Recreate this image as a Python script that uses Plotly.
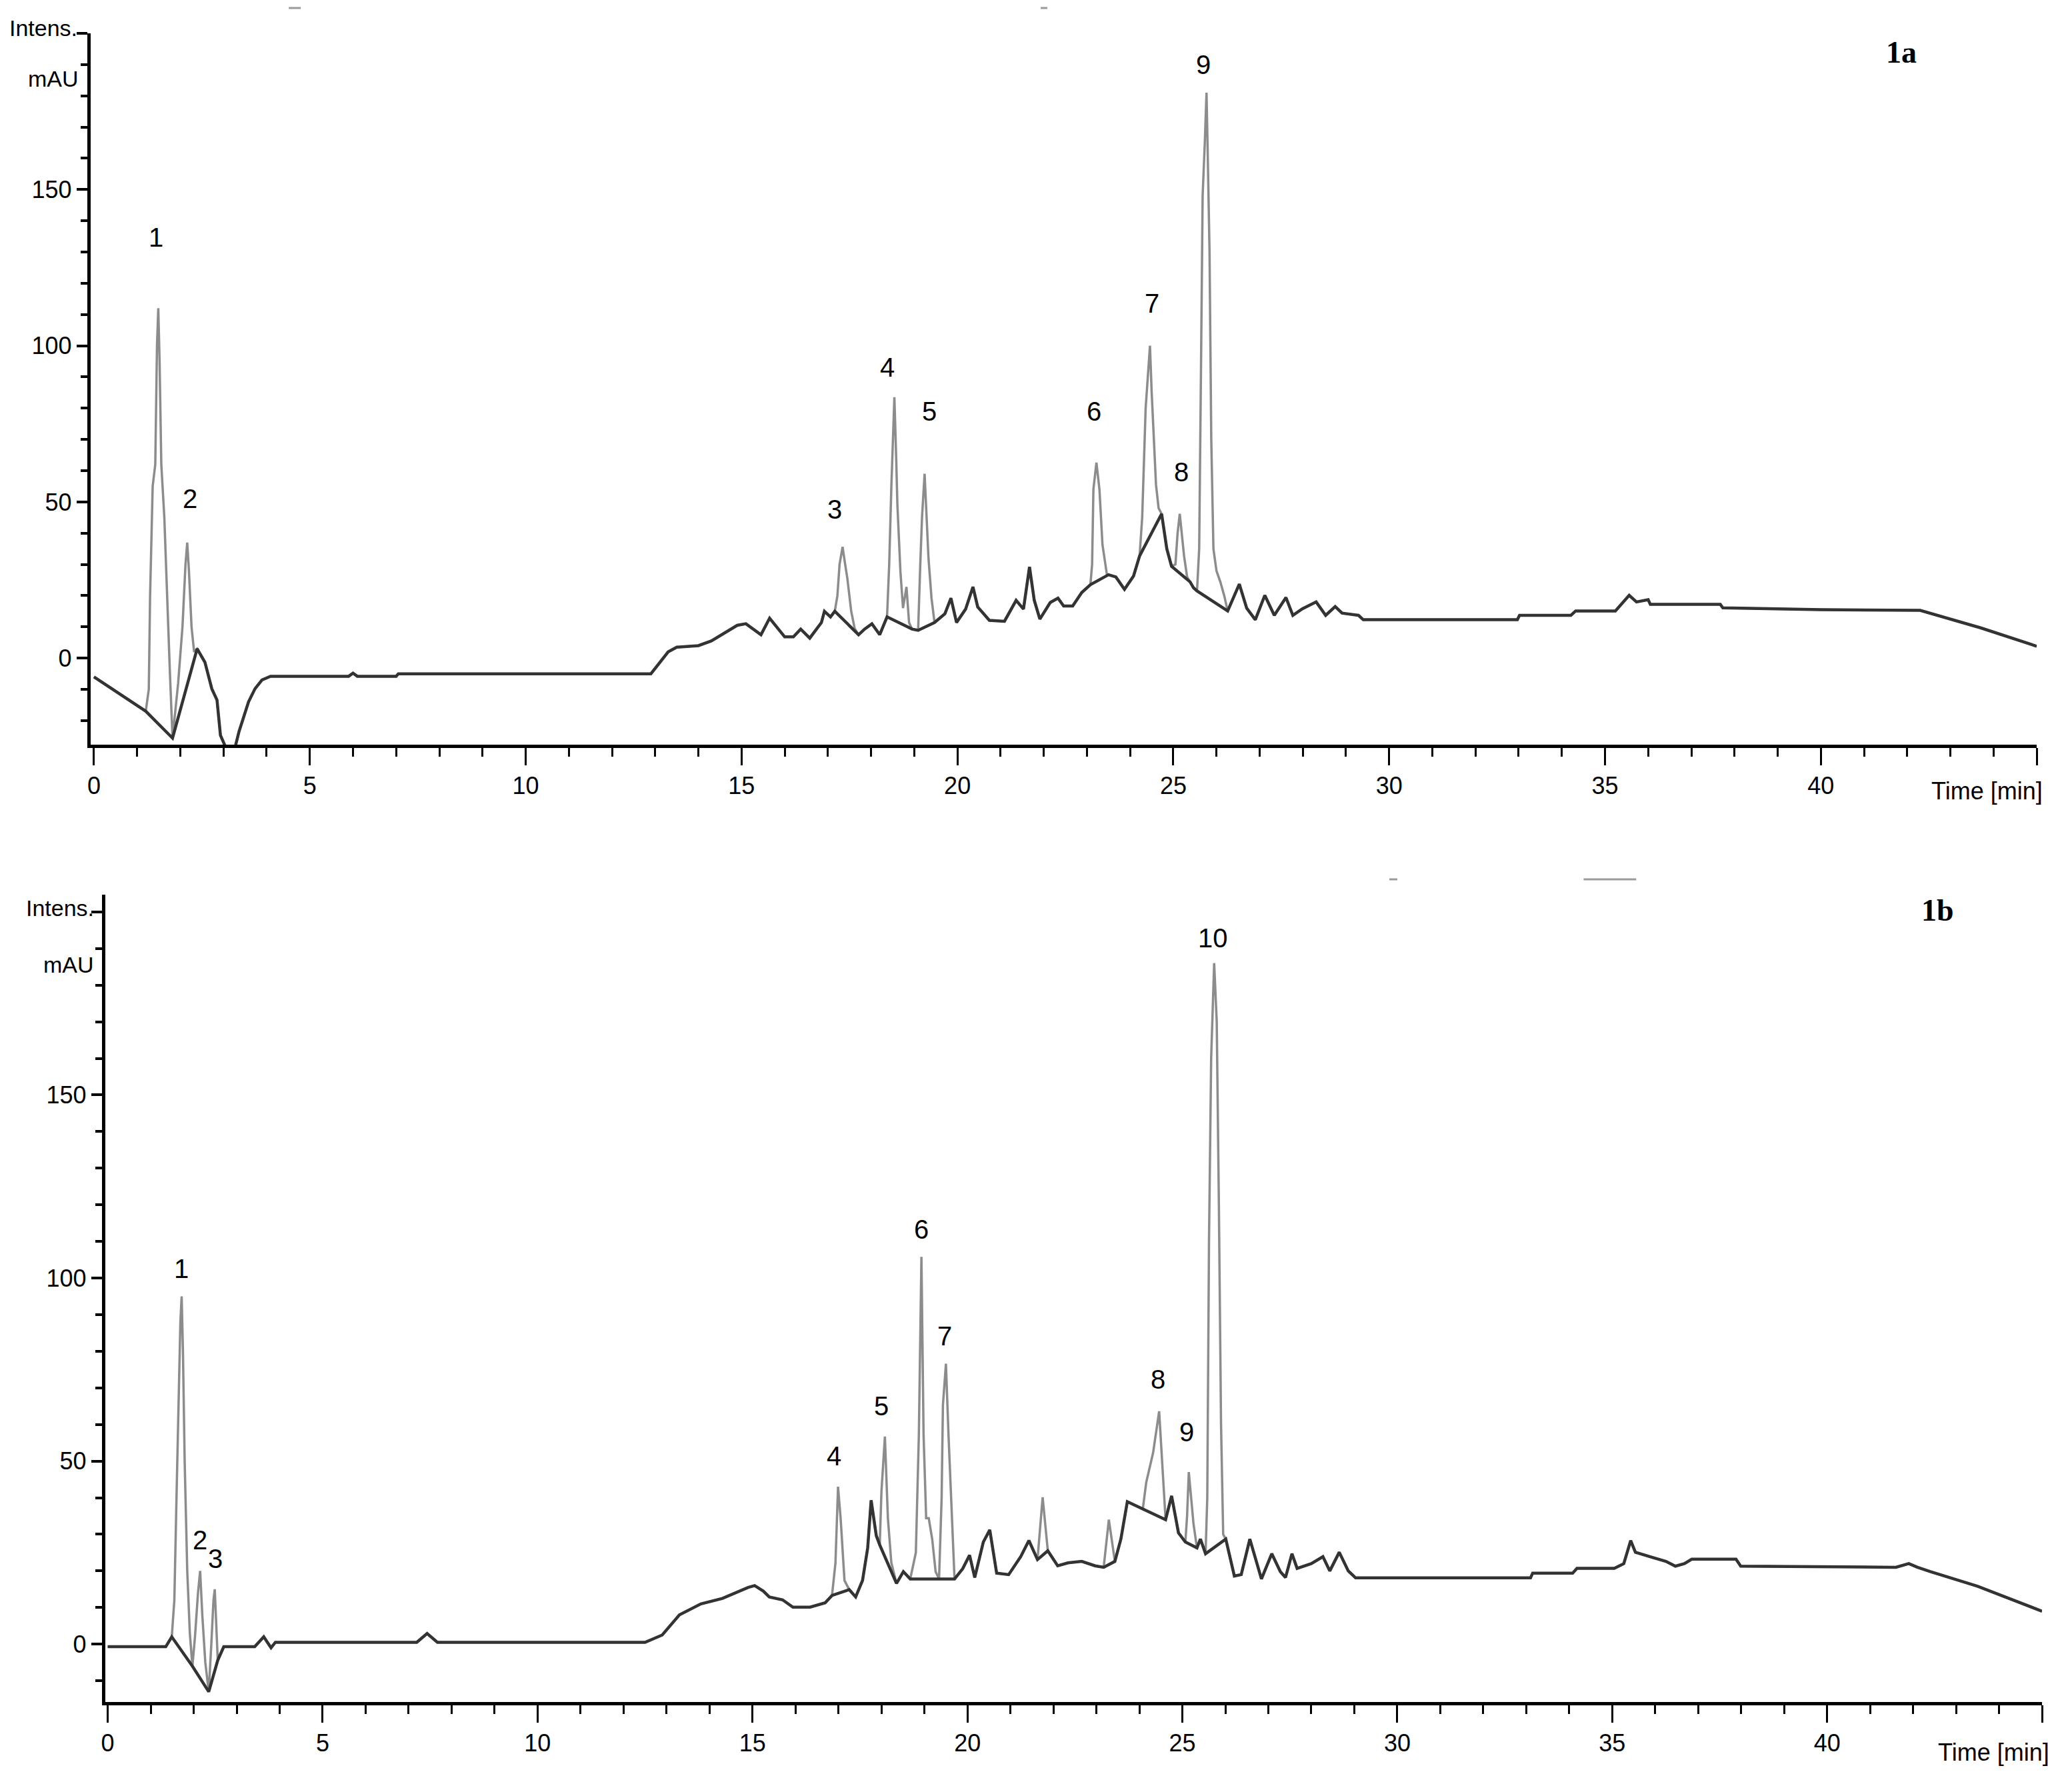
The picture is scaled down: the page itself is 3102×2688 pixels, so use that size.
import plotly.graph_objects as go

# ---------------- data: panel 1a ----------------
time_a = [0, 1.2, 1.27, 1.3, 1.36, 1.42, 1.46, 1.49, 1.52, 1.56, 1.63, 1.7, 1.76, 1.82,
          1.86, 1.95, 2.05, 2.12, 2.16, 2.2, 2.26, 2.32, 2.39,
          2.57, 2.73, 2.85, 2.93, 3.05, 3.27, 3.36, 3.58, 3.73, 3.89, 4.09, 5.9, 6.0, 6.1, 7.0, 7.05,
          12.9, 13.3, 13.5, 14.0, 14.3, 14.6, 14.9, 15.1, 15.3, 15.45, 15.65, 16.0, 16.2, 16.37,
          16.58, 16.85, 16.92, 17.06, 17.16,
          17.22, 17.27, 17.34, 17.4, 17.45, 17.54, 17.62, 17.71,
          17.85, 18.02, 18.2, 18.37,
          18.42, 18.47, 18.54, 18.58, 18.61, 18.68, 18.74, 18.82, 18.88, 18.95,
          19.09, 19.14, 19.18, 19.24, 19.29, 19.33, 19.4, 19.47,
          19.71, 19.85, 19.98, 20.19, 20.36, 20.47, 20.74, 21.09, 21.36, 21.53, 21.67, 21.78,
          21.91, 22.15, 22.33, 22.46, 22.67, 22.88, 23.08,
          23.12, 23.15, 23.22, 23.29, 23.36, 23.46, 23.5,
          23.67, 23.87, 24.08, 24.22,
          24.28, 24.36, 24.42, 24.46, 24.5, 24.55, 24.6, 24.66, 24.73,
          24.85, 24.96,
          25.05, 25.1, 25.15, 25.2, 25.25, 25.32, 25.39,
          25.47, 25.55,
          25.6, 25.64, 25.68, 25.73, 25.77, 25.8, 25.84, 25.88, 25.93, 26.0, 26.09, 26.18, 26.26,
          26.53, 26.7, 26.9, 27.12, 27.34, 27.61, 27.77, 27.99, 28.31, 28.53, 28.75, 28.91,
          29.29, 29.4, 32.97, 33.02, 34.21, 34.32, 35.24, 35.56, 35.73, 36.0, 36.05, 37.67,
          37.73, 40.0, 42.3, 43.7, 45.0]
signal_a = [-6, -17, -10, 20, 55, 62, 100, 112, 95, 62, 45, 15, -5, -25.6,
            -20, -8, 10, 30, 37, 28, 10, 2, 3,
            -1.3, -9.8, -13.4, -24.7, -28.5, -28.5, -23.5, -14, -9.8, -7, -5.8, -5.8, -4.8, -5.8, -5.8, -5,
            -5, 2, 3.5, 4, 5.5, 8, 10.5, 11, 9, 7.5, 12.8, 6.8, 6.8, 9.3,
            6.4, 11.4, 15, 13.2, 15,
            20, 30, 35.6, 30, 25.6, 15, 9.5, 7.5,
            9.3, 11, 7.5, 13.2,
            30, 55, 83.5, 65, 49, 27.7, 16, 22.8, 11.4, 9.3,
            8.9, 30, 45, 59, 45, 32, 19.2, 11.4,
            14.2, 19.2, 11.4, 15.7, 22.8, 16.4, 12.1, 11.8, 18.5, 15.7, 29.2, 18.5,
            12.5, 17.8, 19.2, 16.7, 16.7, 21, 23.5,
            30, 54, 62.6, 54, 36.3, 27, 26.7,
            26, 22, 26.3, 32.7,
            45, 80, 92, 100, 85, 72, 55.5, 48, 46.2,
            35, 29.4,
            30, 40, 46.2, 40, 32.7, 26, 24.4,
            22.5, 21.5,
            35, 90, 148, 165, 181, 160, 130, 70, 35, 28, 24.4, 20, 15.1,
            23.7, 16, 12.3, 20.1, 13.7, 19.4, 13.7, 15.8, 18, 13.7, 16.5, 14.4,
            13.7, 12.3, 12.3, 13.7, 13.7, 15.1, 15.1, 20.1, 18, 18.7, 17.2, 17.2,
            16.1, 15.5, 15.3, 9.7, 3.8]
windows_a = [(1.2, 1.82), (1.82, 2.39), (17.16, 17.71), (18.37, 18.95), (19.09, 19.47),
             (23.08, 23.5), (24.22, 24.73), (24.96, 25.39), (25.55, 26.26)]
labels_a = ["1", "2", "3", "4", "5", "6", "7", "8", "9"]
label_t_a = [1.43, 2.22, 17.16, 18.38, 19.35, 23.16, 24.5, 25.18, 25.7]
label_y_a = [134.6, 51, 47.7, 93, 79, 79, 113.5, 59.5, 190]

# ---------------- data: panel 1b ----------------
time_b = [0, 1.35, 1.49,
          1.55, 1.6, 1.65, 1.69, 1.72, 1.75, 1.79, 1.85, 1.91, 1.97,
          2.03, 2.1, 2.15, 2.2, 2.27, 2.35,
          2.41, 2.46, 2.49, 2.52, 2.56,
          2.7, 3.42, 3.63, 3.8, 3.9, 7.19, 7.43, 7.67, 12.5, 12.9, 13.3, 13.8, 14.3, 14.6, 14.9,
          15.05, 15.25, 15.39, 15.7, 15.94, 16.34, 16.69, 16.85,
          16.93, 16.99, 17.05, 17.14, 17.25,
          17.4, 17.56, 17.68, 17.76, 17.88, 17.96,
          18.0, 18.08, 18.15, 18.23, 18.35,
          18.51, 18.67,
          18.8, 18.87, 18.93, 18.98, 19.04, 19.1, 19.18, 19.26, 19.34,
          19.4, 19.43, 19.5, 19.56, 19.66, 19.7,
          19.89, 20.05, 20.17, 20.37, 20.52, 20.68, 20.96, 21.24, 21.43, 21.63,
          21.75, 21.87,
          22.1, 22.34, 22.66, 22.97, 23.17, 23.29, 23.43,
          23.57, 23.72, 24.08,
          24.16, 24.32, 24.46, 24.55, 24.61,
          24.75, 24.91, 25.07,
          25.11, 25.15, 25.2, 25.26, 25.34,
          25.42, 25.54,
          25.58, 25.62, 25.67, 25.74, 25.8, 25.85, 25.9, 25.95, 26.01,
          26.21, 26.37, 26.57, 26.84, 27.08, 27.28, 27.4, 27.55, 27.67, 28.0, 28.27, 28.43,
          28.65, 28.86, 29.03, 33.1, 33.15, 34.08, 34.18, 35.05, 35.27, 35.43, 35.54, 35.87,
          36.25, 36.47, 36.68, 36.85, 37.88, 37.99, 41.6, 41.9, 42.1, 42.4, 43.5, 45.0]
signal_b = [-0.7, -0.7, 2,
            12, 40, 70, 88, 95, 80, 50, 20, 3, -6,
            2, 14, 20, 8, -5, -13,
            0, 12, 15, 8, -4.4,
            -0.7, -0.7, 2, -1, 0.5, 0.5, 2.9, 0.5, 0.5, 2.5, 8, 11, 12.5, 14, 15.5,
            16, 14.5, 12.9, 12.1, 10.1, 10.1, 11.3, 13.3,
            22.2, 43, 34.4, 17.4, 14.9,
            12.9, 17.4, 26.3, 39.3, 29.6, 27.1,
            41.7, 56.7, 34.4, 22.2, 16.6,
            19.8, 17.8,
            25, 57.1, 105.8, 57.1, 34.4, 34.4, 28.7, 19.8, 17.8,
            40, 65.3, 76.6, 57.1, 26.3, 17.8,
            20.6, 24.3, 18.2, 27.9, 31.2, 19.4, 19, 23.9, 28.3, 23.1,
            40.1, 25.5,
            21.4, 22.2, 22.6, 21.4, 21, 34, 22.6,
            28.7, 38.9, 36.9,
            44.2, 52.3, 63.6, 45, 34,
            40.5, 30.4, 27.9,
            35, 47, 40, 32.8, 26.3,
            28.7, 24.7,
            40, 110, 160, 186, 170, 120, 60, 30, 28.7,
            18.6, 19, 28.7, 17.8, 24.7, 19.8, 18.2, 24.7, 20.7, 22, 23.9, 20,
            25.1, 20, 18.1, 18.1, 19.4, 19.4, 20.7, 20.7, 22, 28.3, 25.1, 23.9,
            22.6, 21.3, 22, 23.2, 23.2, 21.3, 21.0, 22, 21, 19.8, 15.8, 9]
windows_b = [(1.49, 1.97), (1.97, 2.35), (2.35, 2.56), (16.85, 17.25), (17.96, 18.35),
             (18.67, 19.34), (19.34, 19.7), (21.63, 21.87), (23.17, 23.43), (24.08, 24.61),
             (25.07, 25.34), (25.54, 26.01)]
labels_b = ["1", "2", "3", "4", "5", "6", "7", "8", "9", "10"]
label_t_b = [1.72, 2.15, 2.51, 16.9, 18.0, 18.92, 19.47, 24.43, 25.1, 25.72]
label_y_b = [102.5, 28.4, 23.4, 51.4, 65, 113.3, 84.2, 72.3, 58, 192.8]

x_tickvals = [0, 5, 10, 15, 20, 25, 30, 35, 40, 45]
x_ticktext = ["0", "5", "10", "15", "20", "25", "30", "35", "40", ""]
y_tickvals = [0, 50, 100, 150, 200]
y_ticktext = ["0", "50", "100", "150", ""]

# page has an 8px body margin: size the figure so it fills the window exactly
PAGE_W, PAGE_H = 3102, 2688
OFF = 8
W, H = PAGE_W - OFF, PAGE_H - OFF
NARROW = "Liberation Sans Narrow, Arial Narrow, Liberation Sans, Arial, sans-serif"
SERIF = "Liberation Serif, Times New Roman, DejaVu Serif, serif"


def px(X):
    return (X - OFF) / W


def py(Y):
    return 1 - (Y - OFF) / H


def baseline(t, y, windows):
    bt, by = [], []
    for ti, yi in zip(t, y):
        if any(a < ti < b for a, b in windows):
            continue
        bt.append(ti)
        by.append(yi)
    return bt, by


fig = go.Figure()
panels = [
    (time_a, signal_a, windows_a, "x", "y"),
    (time_b, signal_b, windows_b, "x2", "y2"),
]
for t, s, win, xa, ya in panels:
    fig.add_trace(go.Scatter(x=t, y=s, mode="lines", xaxis=xa, yaxis=ya,
                             line=dict(color="#8c8c8c", width=3.5), showlegend=False,
                             hoverinfo="skip"))
    bt, bs = baseline(t, s, win)
    fig.add_trace(go.Scatter(x=bt, y=bs, mode="lines", xaxis=xa, yaxis=ya,
                             line=dict(color="#333333", width=4.5), showlegend=False,
                             hoverinfo="skip"))

annotations = []
for labs, lt, ly, xr, yr in [(labels_a, label_t_a, label_y_a, "x", "y"),
                             (labels_b, label_t_b, label_y_b, "x2", "y2")]:
    for lab, tt, yy in zip(labs, lt, ly):
        annotations.append(dict(x=tt, y=yy, xref=xr, yref=yr, text=lab, showarrow=False,
                                font=dict(family=NARROW, size=40, color="black"),
                                xanchor="center", yanchor="middle"))


def pann(X, Y, text, size=36, family=NARROW, xanchor="right", bold=False):
    if bold:
        text = "<b>" + text + "</b>"
    annotations.append(dict(x=px(X), y=py(Y), xref="paper", yref="paper", text=text,
                            showarrow=False,
                            font=dict(family=family, size=size, color="black"),
                            xanchor=xanchor, yanchor="middle"))


pann(112, 42, "Intens.", size=34)
pann(114, 118, "mAU", size=34)
pann(137, 1362, "Intens.", size=34)
pann(137, 1447, "mAU", size=34)
pann(2980, 1186, "Time [min]", xanchor="center")
pann(2990, 2628, "Time [min]", xanchor="center")
pann(2852, 78, "1a", size=46, family=SERIF, xanchor="center", bold=True)
pann(2906, 1365, "1b", size=46, family=SERIF, xanchor="center", bold=True)


def xaxis_cfg(domain, rng, anchor):
    return dict(domain=domain, range=rng, anchor=anchor, showgrid=False, zeroline=False,
                showline=True, linecolor="black", linewidth=5,
                tickmode="array", tickvals=x_tickvals, ticktext=x_ticktext,
                ticks="outside", ticklen=26, tickwidth=3, tickcolor="black",
                tickfont=dict(family=NARROW, size=36, color="black"),
                minor=dict(ticks="outside", ticklen=13, tickwidth=3, tickcolor="black",
                           dtick=1, tick0=0, showgrid=False))


def yaxis_cfg(domain, rng, anchor):
    return dict(domain=domain, range=rng, anchor=anchor, showgrid=False, zeroline=False,
                showline=True, linecolor="black", linewidth=5,
                tickmode="array", tickvals=y_tickvals, ticktext=y_ticktext,
                ticks="outside", ticklen=16, tickwidth=4, tickcolor="black",
                tickfont=dict(family=NARROW, size=36, color="black"),
                minor=dict(ticks="outside", ticklen=10, tickwidth=4, tickcolor="black",
                           dtick=10, tick0=0, showgrid=False))


shapes = []
for x0, x1, y0 in [(428, 446, 12), (1558, 1568, 12), (2082, 2094, 1319), (2374, 2453, 1319)]:
    shapes.append(dict(type="line", xref="paper", yref="paper",
                       x0=px(x0), x1=px(x1), y0=py(y0), y1=py(y0),
                       line=dict(color="#9a9a9a", width=3)))

fig.update_layout(
    width=W, height=H,
    margin=dict(l=0, r=0, t=0, b=0),
    paper_bgcolor="white", plot_bgcolor="white",
    xaxis=xaxis_cfg([px(130), px(3055)], [-0.08, 45], "y"),
    yaxis=yaxis_cfg([py(1117), py(50)], [-27.7, 200], "x"),
    xaxis2=xaxis_cfg([px(152), px(3063)], [-0.06, 45], "y2"),
    yaxis2=yaxis_cfg([py(2553), py(1342)], [-15.8, 204.7], "x2"),
    annotations=annotations,
    shapes=shapes,
    showlegend=False,
)

fig.write_html("out.html")
